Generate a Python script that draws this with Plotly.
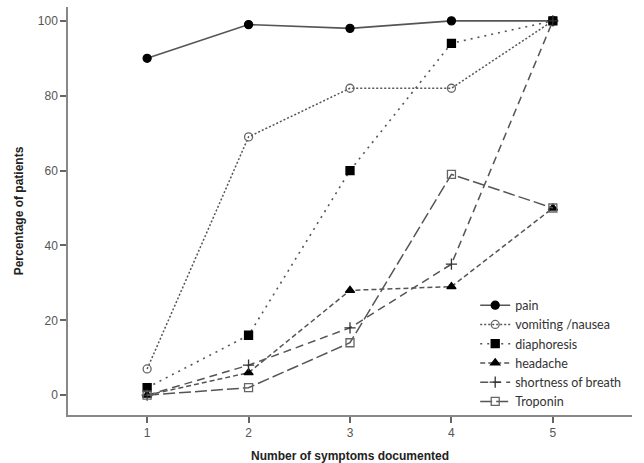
import plotly.graph_objects as go

x_vals = [1, 2, 3, 4, 5]
pain = [90, 99, 98, 100, 100]
vomiting = [7, 69, 82, 82, 100]
diaphoresis = [2, 16, 60, 94, 100]
headache = [0, 6, 28, 29, 50]
breath = [0, 8, 18, 35, 100]
troponin = [0, 2, 14, 59, 50]

series = [
    ("pain", pain, "solid", "circle", "#000000", 1.6),
    ("vomiting /nausea", vomiting, "2px,2px", "circle-open", "#666666", 1.5),
    ("diaphoresis", diaphoresis, "2px,5px", "square", "#000000", 1.6),
    ("headache", headache, "5px,3px", "triangle-up", "#000000", 1.5),
    ("shortness of breath", breath, "8px,5px", "cross-thin-open", "#333333", 1.5),
    ("Troponin", troponin, "12px,4px", "square-open", "#666666", 1.5),
]

fig = go.Figure()
for name, vals, dash, sym, mcol, lw in series:
    fig.add_trace(go.Scatter(
        x=x_vals, y=vals, name=name, mode="lines+markers",
        line=dict(color="#555555", width=lw, dash=dash),
        marker=dict(symbol=sym, size=8, color=mcol,
                    line=dict(color=mcol, width=1.3)),
    ))

fig.update_layout(
    width=644, height=463,
    margin=dict(l=68, r=12, t=7, b=48, autoexpand=False),
    paper_bgcolor="white", plot_bgcolor="white",
    showlegend=True,
    legend=dict(x=0.722, y=0.305, xanchor="left", yanchor="top",
                bgcolor="rgba(0,0,0,0)",
                font=dict(family="Lato", size=12.5, color="#333333"),
                tracegroupgap=0, itemwidth=30),
    font=dict(family="Liberation Sans", size=12, color="#555555"),
)
fig.update_xaxes(
    range=[0.22, 5.78], tickvals=x_vals, ticktext=[str(v) for v in x_vals],
    showgrid=False, zeroline=False, showline=True, linecolor="#888888", linewidth=1.5,
    ticks="outside", ticklen=6, tickcolor="#666666", tickwidth=1.5, automargin=False,
    tickfont=dict(family="Liberation Sans", size=12, color="#555555"),
    title=dict(text="<b>Number of symptoms documented</b>",
               font=dict(family="Liberation Sans", size=12, color="#222222"), standoff=14),
)
fig.update_yaxes(
    range=[-5.3, 103.7], tickvals=[0, 20, 40, 60, 80, 100],
    showgrid=False, zeroline=False, showline=True, linecolor="#888888", linewidth=1.5,
    ticks="outside", ticklen=6, tickcolor="#666666", tickwidth=1.5, automargin=False,
    tickfont=dict(family="Liberation Sans", size=12, color="#555555"),
    title=dict(text="<b>Percentage of patients</b>",
               font=dict(family="Liberation Sans", size=12, color="#222222"), standoff=12),
)

fig.write_html("out.html", config={"displayModeBar": False},
               post_script="document.body.style.margin='0';")
